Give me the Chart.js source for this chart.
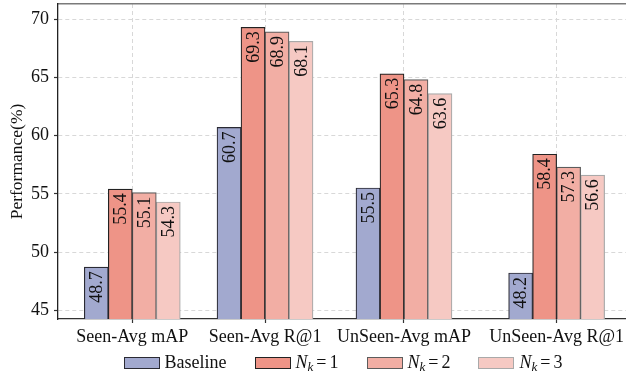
<!DOCTYPE html>
<html>
<head>
<meta charset="utf-8">
<script src="https://cdn.jsdelivr.net/npm/chart.js@4/dist/chart.umd.min.js"></script>
<style>
  html, body { margin: 0; padding: 0; background: #fff; }
  #wrap { position: relative; width: 626px; height: 377px; overflow: hidden; }
  #legend { position: absolute; left: 0; top: 352px; width: 686px; display: flex; justify-content: center;
            font-family: "Liberation Serif", "DejaVu Serif", serif; font-size: 18px; color: #111; }
  .item { display: flex; align-items: center; margin: 0 14px; white-space: nowrap; }
  .box { width: 34px; height: 10px; margin-right: 5px; }
  .item sub { font-size: 13px; vertical-align: -3px; line-height: 0; }
  .eq { margin: 0 3px; }
</style>
</head>
<body>
<div id="wrap">
  <canvas id="c" width="626" height="377"></canvas>
  <div id="legend"></div>
</div>
<script>
const categories = ['Seen-Avg mAP', 'Seen-Avg R@1', 'UnSeen-Avg mAP', 'UnSeen-Avg R@1'];
const seriesNames = ['Baseline', 'N_k = 1', 'N_k = 2', 'N_k = 3'];
const baseline = [48.7, 60.7, 55.5, 48.2];
const nk1 = [55.4, 69.3, 65.3, 58.4];
const nk2 = [55.1, 68.9, 64.8, 57.3];
const nk3 = [54.3, 68.1, 63.6, 56.6];
const yTicks = [45, 50, 55, 60, 65, 70];

// layout (not data): group centres along the x axis, and style per series
const groupX = [0, 1.106, 2.264, 3.536];
const fills = ['#a2a9cf', '#ee9487', '#f2aea4', '#f6c9c3'];
const edges = ['#2a2a33', '#222222', '#5c5c5c', '#a9a9a9'];

const seriesValues = [baseline, nk1, nk2, nk3];
const datasets = seriesValues.map((vals, s) => ({
  label: seriesNames[s],
  data: vals.map((v, i) => ({ x: groupX[i], y: v })),
  backgroundColor: fills[s],
  borderColor: edges[s],
  borderWidth: 1.2,
  borderSkipped: 'start',
  barThickness: 24
}));

const serif = '"Liberation Serif", "DejaVu Serif", serif';

const valueLabels = {
  id: 'valueLabels',
  afterDatasetsDraw(chart) {
    const ctx = chart.ctx;
    ctx.save();
    ctx.font = '18px ' + serif;
    ctx.fillStyle = '#111';
    ctx.textAlign = 'right';
    ctx.textBaseline = 'middle';
    chart.data.datasets.forEach((ds, di) => {
      const meta = chart.getDatasetMeta(di);
      meta.data.forEach((bar, i) => {
        const v = ds.data[i].y;
        ctx.save();
        ctx.translate(bar.x, bar.y + 4);
        ctx.rotate(-Math.PI / 2);
        ctx.fillText(v.toFixed(1), 0, 1);
        ctx.restore();
      });
    });
    ctx.restore();
  }
};

function noPad(s) { s.paddingTop = 0; s.paddingBottom = 0; s.paddingLeft = 0; s.paddingRight = 0; }

const chart = new Chart(document.getElementById('c'), {
  type: 'bar',
  data: { datasets },
  plugins: [valueLabels],
  options: {
    responsive: false,
    animation: false,
    devicePixelRatio: 1,
    layout: { padding: { top: 4, left: 0, right: 0, bottom: 0 } },
    plugins: { legend: { display: false }, tooltip: { enabled: false } },
    scales: {
      x: {
        type: 'linear',
        position: 'bottom',
        offset: false,
        min: -0.619,
        max: 4.114,
        afterBuildTicks: (s) => { s.ticks = groupX.map(v => ({ value: v })); },
        afterFit: (s) => { s.height = 58; noPad(s); },
        ticks: {
          autoSkip: false, maxRotation: 0, padding: 3,
          color: '#111',
          font: { family: serif, size: 18 },
          callback: (v, i) => categories[i]
        },
        grid: { offset: false, color: '#d8d8d8', lineWidth: 1, tickColor: '#333', tickLength: 4, tickWidth: 1.2 },
        border: { color: '#333', width: 1.3, dash: [4, 3] }
      },
      xTop: {
        type: 'linear',
        position: 'top',
        offset: false,
        min: -0.619,
        max: 4.114,
        ticks: { display: false },
        grid: { display: false, drawTicks: false, offset: false },
        border: { color: '#7a7a7a', width: 1.5 },
        afterFit: (s) => { s.height = 0; noPad(s); }
      },
      y: {
        min: 44.25,
        max: 71.3,
        afterBuildTicks: (s) => { s.ticks = yTicks.map(v => ({ value: v })); },
        afterFit: (s) => { s.width = 58; noPad(s); },
        ticks: { padding: 5, color: '#111', font: { family: serif, size: 18 } },
        grid: { color: '#d8d8d8', lineWidth: 1, tickColor: '#333', tickLength: 4, tickWidth: 1.2 },
        border: { color: '#222', width: 1.3, dash: [4, 3] },
        title: {
          display: true, text: 'Performance(%)', color: '#111',
          font: { family: serif, size: 17.5 }, padding: { top: 7, bottom: 0 }
        }
      }
    }
  }
});

// HTML legend built from the chart's datasets
function labelHtml(t) {
  return t.replace(/^N_k/, '<i>N</i><sub><i>k</i></sub>').replace(' = ', '<span class="eq">=</span>');
}
const legend = document.getElementById('legend');
chart.data.datasets.forEach(ds => {
  const item = document.createElement('div');
  item.className = 'item';
  const box = document.createElement('span');
  box.className = 'box';
  box.style.background = ds.backgroundColor;
  box.style.border = '1.2px solid ' + ds.borderColor;
  const txt = document.createElement('span');
  txt.innerHTML = labelHtml(ds.label);
  item.appendChild(box);
  item.appendChild(txt);
  legend.appendChild(item);
});
</script>
</body>
</html>
